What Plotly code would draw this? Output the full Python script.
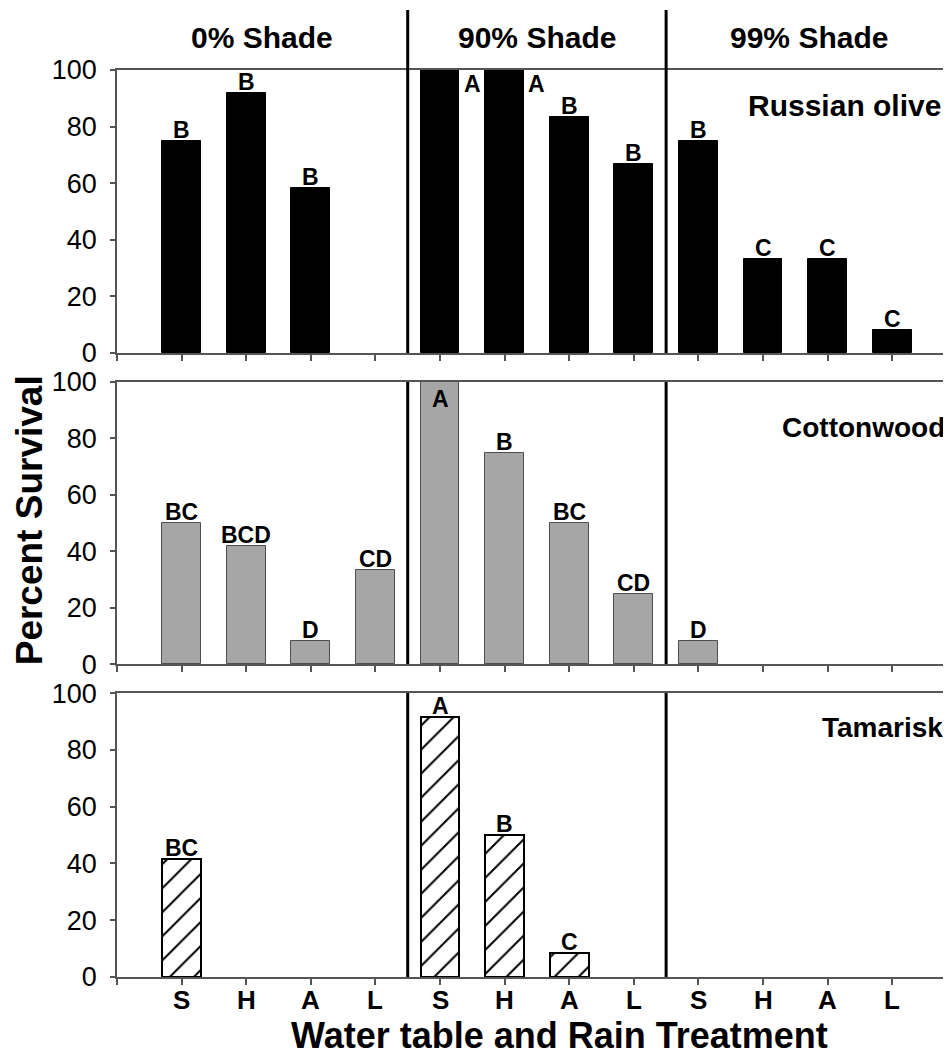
import plotly.graph_objects as go
from plotly.subplots import make_subplots

# ---- data ----
treatments = ["S", "H", "A", "L"]
shades = ["0% Shade", "90% Shade", "99% Shade"]
positions = list(range(1, 13))
tick_labels = treatments * 3

olive = [75, 91.7, 58.3, 0, 100, 100, 83.3, 66.7, 75, 33.3, 33.3, 8.3]
olive_letters = ["B", "B", "B", "", "A", "A", "B", "B", "B", "C", "C", "C"]

cotton = [50, 41.7, 8.3, 33.3, 100, 75, 50, 25, 8.3, 0, 0, 0]
cotton_letters = ["BC", "BCD", "D", "CD", "A", "B", "BC", "CD", "D", "", "", ""]

tamarisk = [41.7, 0, 0, 0, 91.7, 50, 8.3, 0, 0, 0, 0, 0]
tamarisk_letters = ["BC", "", "", "", "A", "B", "C", "", "", "", "", ""]

species = ["Russian olive", "Cottonwood", "Tamarisk"]

FONT = "Liberation Sans, Arial, sans-serif"
AX = "#555555"


def outline(vals, w):
    return [w if v > 0 else 0 for v in vals]


fig = make_subplots(rows=3, cols=1, shared_xaxes=False)

fig.add_trace(go.Bar(x=positions, y=olive, width=0.6,
                     marker=dict(color="black",
                                 line=dict(color="black", width=outline(olive, 1)))),
              row=1, col=1)
fig.add_trace(go.Bar(x=positions, y=cotton, width=0.6,
                     marker=dict(color="#a6a6a6",
                                 line=dict(color="#4d4d4d", width=outline(cotton, 1)))),
              row=2, col=1)
fig.add_trace(go.Bar(x=positions, y=tamarisk, width=0.6,
                     marker=dict(color="white",
                                 line=dict(color="black", width=outline(tamarisk, 2)),
                                 pattern=dict(shape="/", fgcolor="black", bgcolor="white",
                                              fgopacity=1, size=17, solidity=0.12))),
              row=3, col=1)

domains = [[0.688, 1.0], [0.345, 0.656], [0.0, 0.313]]
xr = [0, 12.91]
for i in range(3):
    r = i + 1
    fig.update_yaxes(row=r, col=1, domain=domains[i], range=[0, 100],
                     tickvals=[0, 20, 40, 60, 80, 100], ticks="outside", ticklen=5,
                     tickcolor=AX, tickwidth=1.5, showline=True, linecolor=AX, linewidth=1.5,
                     showgrid=False, zeroline=False, ticklabelstandoff=8,
                     tickfont=dict(family=FONT, size=27, color="black"))
    fig.update_xaxes(row=r, col=1, range=xr, tickvals=[0] + positions,
                     showticklabels=False,
                     ticks="outside", ticklen=6, tickcolor=AX, tickwidth=1.5,
                     showline=True, linecolor=AX, linewidth=1.5, mirror=True,
                     showgrid=False, zeroline=False)

annotations = []

# category labels under the bottom panel
for x, t in zip(positions, tick_labels):
    annotations.append(dict(x=x, y=0, xref="x3", yref="y3", text=t, showarrow=False,
                            xanchor="center", yanchor="top", yshift=-6,
                            font=dict(family=FONT, size=26, color="black", weight="bold")))

letters_all = [olive_letters, cotton_letters, tamarisk_letters]
values_all = [olive, cotton, tamarisk]
axnames = [("x", "y"), ("x2", "y2"), ("x3", "y3")]
lf = dict(family=FONT, size=23, color="black", weight="bold")
for p in range(3):
    xa, ya = axnames[p]
    for i, (v, t) in enumerate(zip(values_all[p], letters_all[p])):
        if not t:
            continue
        x = positions[i]
        if p == 0 and v >= 100:
            annotations.append(dict(x=x + 0.5, y=95, xref=xa, yref=ya, text=t, showarrow=False,
                                    yanchor="middle", xanchor="center", font=lf))
        elif p == 1 and v >= 100:
            annotations.append(dict(x=x, y=94, xref=xa, yref=ya, text=t, showarrow=False,
                                    yanchor="middle", xanchor="center", font=lf))
        else:
            annotations.append(dict(x=x, y=v, xref=xa, yref=ya, text=t, showarrow=False,
                                    yanchor="bottom", xanchor="center", yshift=-4, font=lf))

# species labels
sp_y = [87.6, 83.7, 88]
sp_size = [30, 28, 28]
sp_shift = [-8, -4, -6]
for p in range(3):
    xa, ya = axnames[p]
    annotations.append(dict(x=1, y=sp_y[p], xref="paper", yref=ya, text=species[p],
                            showarrow=False, xanchor="right", yanchor="middle",
                            xshift=sp_shift[p],
                            font=dict(family=FONT, size=sp_size[p], color="black", weight="bold")))

# shade headers
shade_centers = [(0 + 4.5) / 2, (4.5 + 8.5) / 2, (8.5 + 12.91) / 2]
for s, c in zip(shades, shade_centers):
    annotations.append(dict(x=c, y=1.0, xref="x", yref="paper", text=s, showarrow=False,
                            xanchor="center", yanchor="bottom", yshift=14,
                            font=dict(family=FONT, size=30, color="black", weight="bold")))

# axis titles
annotations.append(dict(x=0.53, y=-0.040, xref="paper", yref="paper",
                        text="Water table and Rain Treatment", showarrow=False,
                        xanchor="center", yanchor="top",
                        font=dict(family=FONT, size=36, color="black", weight="bold")))
annotations.append(dict(x=-0.105, y=0.504, xref="paper", yref="paper",
                        text="Percent Survival", showarrow=False, textangle=-90,
                        xanchor="center", yanchor="middle",
                        font=dict(family=FONT, size=37, color="black", weight="bold")))

# dividers between shade groups
shapes = []
for p in range(3):
    xa, ya = axnames[p]
    for d in [4.5, 8.5]:
        shapes.append(dict(type="line", xref=xa, yref=ya + " domain", x0=d, x1=d,
                           y0=0, y1=1.212 if p == 0 else 1.0,
                           line=dict(color="black", width=3)))

fig.update_layout(
    width=951, height=1052,
    margin=dict(l=109, r=8, t=62, b=83),
    plot_bgcolor="white", paper_bgcolor="white",
    showlegend=False, bargap=0,
    annotations=annotations, shapes=shapes,
)

fig.write_html("out.html")
